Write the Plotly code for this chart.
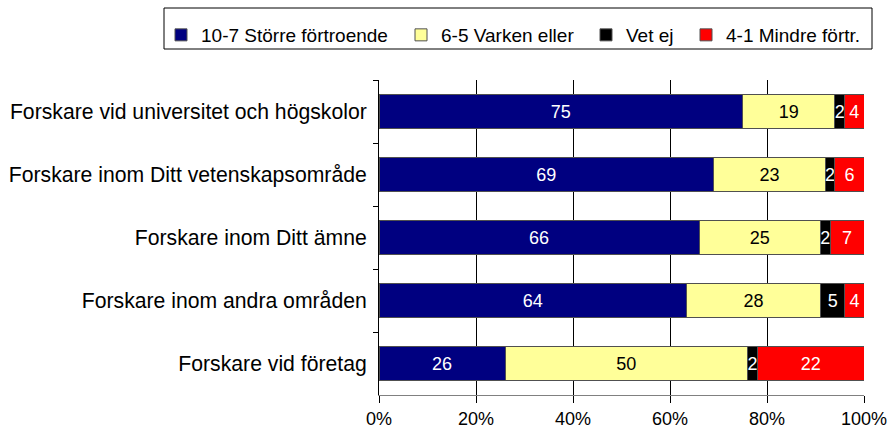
import plotly.graph_objects as go

categories = [
    "Forskare vid universitet och högskolor",
    "Forskare inom Ditt vetenskapsområde",
    "Forskare inom Ditt ämne",
    "Forskare inom andra områden",
    "Forskare vid företag",
]
series_names = ["10-7 Större förtroende", "6-5 Varken eller", "Vet ej", "4-1 Mindre förtr."]
storre = [75, 69, 66, 64, 26]
varken = [19, 23, 25, 28, 50]
vetej = [2, 2, 2, 5, 2]
mindre = [4, 6, 7, 4, 22]
x_ticks = [0, 20, 40, 60, 80, 100]
x_ticklabels = ["0%", "20%", "40%", "60%", "80%", "100%"]

colors = ["#000080", "#FFFF99", "#000000", "#FF0000"]
text_colors = ["white", "black", "white", "white"]
series = [storre, varken, vetej, mindre]

FONT = "Liberation Sans, Arial, sans-serif"
W, H = 892, 432
L, R, T, B = 379, 28, 80, 37
pw, ph = W - L - R, H - T - B

fig = go.Figure()
legend_text_x = [198, 438, 623, 723]
for i, (name, vals) in enumerate(zip(series_names, series)):
    lg = "legend" if i == 0 else f"legend{i+1}"
    fig.add_trace(go.Bar(
        y=categories, x=vals, name=name, orientation="h",
        marker=dict(color=colors[i], line=dict(color="#505050", width=1)),
        text=[str(v) for v in vals], texttemplate="%{text}",
        textposition="inside", insidetextanchor="middle", textangle=0,
        constraintext="none",
        insidetextfont=dict(family=FONT, size=18, color=text_colors[i]),
        legend=lg, hoverinfo="skip",
    ))

legend_common = dict(
    orientation="h", yanchor="middle", xanchor="left",
    xref="container", yref="container",
    bgcolor="rgba(0,0,0,0)", borderwidth=0,
    font=dict(family=FONT, size=19, color="black"),
)
legend_layout = {}
for i, tx in enumerate(legend_text_x):
    key = "legend" if i == 0 else f"legend{i+1}"
    legend_layout[key] = dict(legend_common,
                              x=(tx - 37) / W,
                              y=1 - 35 / H)

fig.update_layout(
    width=W, height=H,
    margin=dict(l=L, r=R, t=T, b=B, pad=0, autoexpand=False),
    barmode="stack", barnorm="percent", bargap=0.46,
    paper_bgcolor="white", plot_bgcolor="white",
    font=dict(family=FONT, color="black"),
    showlegend=True,
    xaxis=dict(
        range=[0, 100], tickvals=x_ticks, ticktext=x_ticklabels,
        showgrid=True, gridcolor="black", gridwidth=1,
        showline=True, linecolor="#808080", linewidth=1,
        ticks="outside", ticklen=7, tickcolor="black",
        tickfont=dict(family=FONT, size=18, color="black"),
        zeroline=False, fixedrange=True, automargin=False,
    ),
    yaxis=dict(
        categoryorder="array", categoryarray=categories, autorange="reversed",
        showline=True, linecolor="black", linewidth=1,
        ticks="outside", ticklen=5, tickcolor="black", tickson="boundaries",
        tickfont=dict(family=FONT, size=21.2, color="black"),
        ticklabelstandoff=7, showgrid=False, fixedrange=True, automargin=False,
    ),
    shapes=[dict(type="rect", xref="paper", yref="paper",
                 x0=(164 - L) / pw, x1=(872 - L) / pw,
                 y0=1 + (T - 49) / ph, y1=1 + (T - 8) / ph,
                 line=dict(color="black", width=1), fillcolor="rgba(0,0,0,0)")],
    **legend_layout,
)

fig.write_html("out.html", config={"displayModeBar": False},
               post_script="document.body.style.margin='0px';")
